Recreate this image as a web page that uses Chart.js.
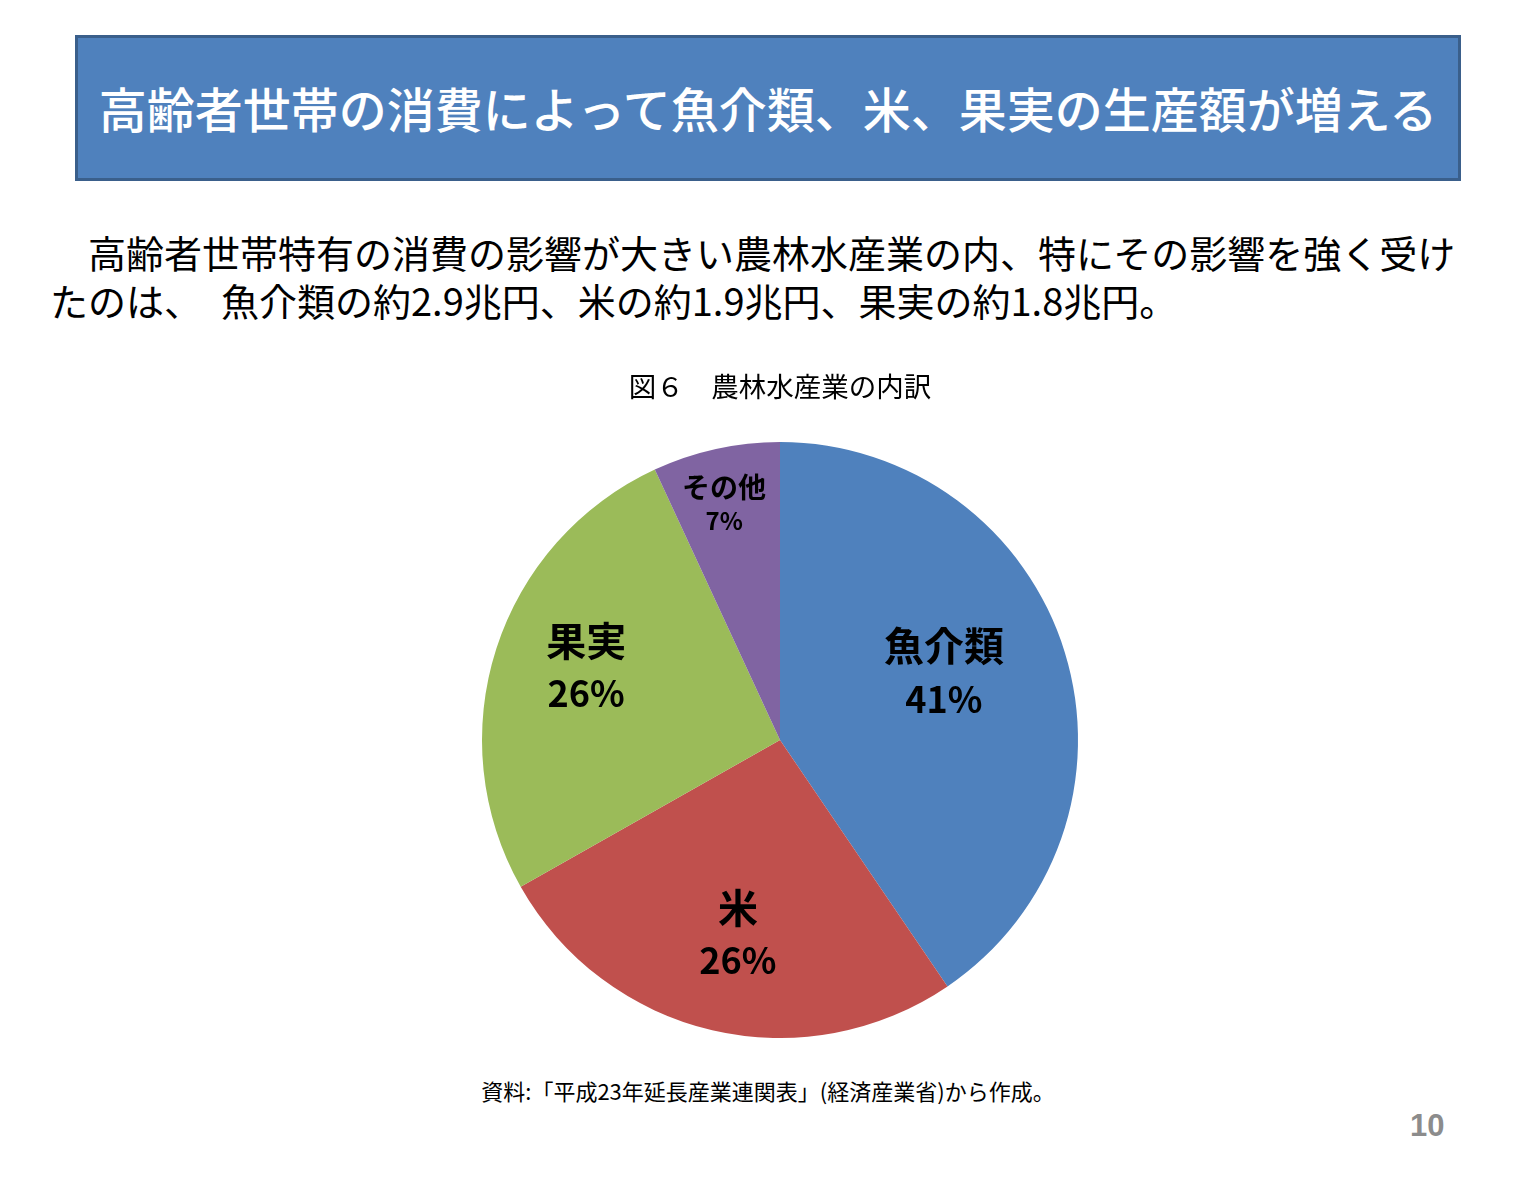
<!DOCTYPE html>
<html lang="ja">
<head>
<meta charset="utf-8">
<script src="https://cdn.jsdelivr.net/npm/chart.js@4.4.1/dist/chart.umd.min.js"></script>
<style>
  html, body { margin: 0; padding: 0; background: #fff; overflow: hidden; }
  body { width: 1536px; height: 1182px; position: relative; font-family: "Noto Sans CJK JP", sans-serif; }
  .titlebox {
    position: absolute; left: 75px; top: 35px; width: 1380px; height: 137px;
    background: #4F81BD; border: 3px solid #3A5F8B;
    color: #fff; font-size: 48px; font-weight: 500;
    display: flex; align-items: center; justify-content: center;
    padding-bottom: 3px; box-sizing: content-box;
  }
  .lead { position: absolute; left: 50px; top: 228px; font-size: 38px; line-height: 48px; color: #000; white-space: nowrap; }
  .src { position: absolute; left: 0; width: 1536px; top: 1074px; text-align: center; font-size: 22px; color: #000; }
  .page { position: absolute; left: 1410px; top: 1108px; font-family: "Liberation Sans Narrow", "Liberation Sans", sans-serif; font-weight: bold; font-size: 31px; color: #8C8C8C; }
  #wrap { position: absolute; left: 24px; top: 370px; width: 1512px; height: 668px; }
</style>
</head>
<body>
<div class="titlebox">高齢者世帯の消費によって魚介類、米、果実の生産額が増える</div>
<div class="lead">　高齢者世帯特有の消費の影響が大きい農林水産業の内、特にその影響を強く受け<br>たのは、　魚介類の約2.9兆円、米の約1.9兆円、果実の約1.8兆円。</div>
<div id="wrap"><canvas id="myChart"></canvas></div>
<div class="src">資料:「平成23年延長産業連関表」(経済産業省)から作成。</div>
<div class="page">10</div>
<script>
const categories = ['魚介類', '米', '果実', 'その他'];
const shares = [40.5, 26.3, 26.3, 6.9];
const shareLabels = ['41%', '26%', '26%', '7%'];
const sliceColors = ['#4F81BD', '#C0504D', '#9BBB59', '#8064A2'];

// label placement tweaks (radius fraction, angle shift in degrees, font sizes)
const labelStyle = [
    { r: 0.595, shift: -5.3, nameSize: 40, pctSize: 36, gap: 53 },
    { r: 0.666, shift: -0.9, nameSize: 40, pctSize: 36, gap: 52 },
    { r: 0.695, shift: 2.8, nameSize: 40, pctSize: 36, gap: 52 },
    { r: 0.814, shift: -0.9, nameSize: 28, pctSize: 24, gap: 34 }
];

const sliceLabels = {
    id: 'sliceLabels',
    afterDatasetsDraw(chart) {
        const meta = chart.getDatasetMeta(0);
        const c = chart.ctx;
        c.save();
        c.fillStyle = '#000';
        c.textAlign = 'center';
        c.textBaseline = 'middle';
        meta.data.forEach((arc, i) => {
            const st = labelStyle[i];
            const mid = (arc.startAngle + arc.endAngle) / 2 + st.shift * Math.PI / 180;
            const rr = arc.outerRadius * st.r;
            const x = arc.x + Math.cos(mid) * rr;
            const y = arc.y + Math.sin(mid) * rr;
            c.font = 'bold ' + st.nameSize + 'px "Noto Sans CJK JP"';
            c.fillText(categories[i], x, y - st.gap / 2);
            c.font = 'bold ' + st.pctSize + 'px "Noto Sans CJK JP"';
            c.fillText(shareLabels[i], x, y + st.gap / 2);
        });
        c.restore();
    }
};

const ctx = document.getElementById('myChart');

new Chart(ctx, {
    type: 'pie',
    data: {
        labels: categories,
        datasets: [{
            data: shares,
            backgroundColor: sliceColors,
            borderWidth: 0
        }]
    },
    options: {
        responsive: true,
        maintainAspectRatio: false,
        animation: false,
        layout: { padding: 0 },
        plugins: {
            legend: { display: false },
            tooltip: { enabled: false },
            title: {
                display: true,
                text: '図６　農林水産業の内訳',
                color: '#000',
                font: { family: '"Noto Sans CJK JP"', size: 27.5, weight: 'normal', lineHeight: 1.2 },
                padding: { top: 0, bottom: 39 }
            }
        }
    },
    plugins: [sliceLabels]
});
</script>
</body>
</html>
